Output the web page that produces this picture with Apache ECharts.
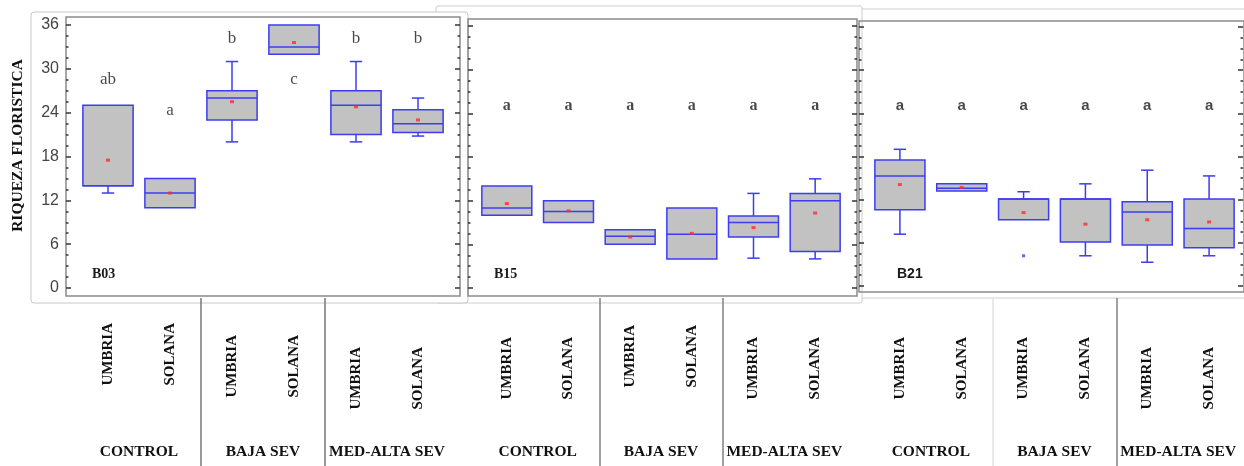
<!DOCTYPE html>
<html>
<head>
<meta charset="utf-8">
<script src="https://cdn.jsdelivr.net/npm/echarts@6/dist/echarts.min.js"></script>
<style>
html, body { margin: 0; padding: 0; background: #fff; }
#chart { width: 1244px; height: 466px; }
</style>
</head>
<body>
<div id="chart"></div>
<script>
// categories
const subCategories = ['UMBRIA', 'SOLANA', 'UMBRIA', 'SOLANA', 'UMBRIA', 'SOLANA'];
const groups = ['CONTROL', 'BAJA SEV', 'MED-ALTA SEV'];
const yMin = 0, yMax = 36, yStep = 6;
const yTitle = 'RIQUEZA FLORISTICA';

// boxes: [min, Q1, median, Q3, max]
const b03Boxes = [[13, 14, 14, 25, 25], [11, 11, 13, 15, 15], [20, 23, 26, 27, 31],
                  [32, 32, 33, 36, 36], [20, 21, 25, 27, 31], [20.8, 21.3, 22.5, 24.4, 26]];
const b03Means = [17.5, 13, 25.5, 33.6, 24.8, 23];
const b03Letters = ['ab', 'a', 'b', 'c', 'b', 'b'];
const b03LetterY = [28.5, 24.3, 34.2, 28.5, 34.2, 34.2];

const b15Boxes = [[10, 10, 11, 14, 14], [9, 9, 10.5, 12, 12], [6, 6, 7.1, 8, 8],
                  [4, 4, 7.4, 11, 11], [4.1, 7, 9, 9.9, 13], [4, 5, 12, 13, 15]];
const b15Means = [11.6, 10.6, 7, 7.5, 8.3, 10.3];
const b15Letters = ['a', 'a', 'a', 'a', 'a', 'a'];
const b15LetterY = [25, 25, 25, 25, 25, 25];

const b21Boxes = [[7.2, 10.6, 15.3, 17.5, 19], [13.2, 13.2, 13.6, 14.2, 14.2], [9.2, 9.2, 12.1, 12.1, 13.1],
                  [4.2, 6.1, 12.1, 12.1, 14.2], [3.3, 5.7, 10.3, 11.7, 16.1], [4.2, 5.3, 8, 12.1, 15.3]];
const b21Means = [14.1, 13.7, 10.2, 8.6, 9.2, 8.9];
const b21Letters = ['a', 'a', 'a', 'a', 'a', 'a'];
const b21LetterY = [25, 25, 25, 25, 25, 25];
const b21Outliers = [[2, 4.2]];

const BLUE = '#3c3cf2';
const GREY = '#c2c2c2';
const SERIF = '"Liberation Serif", "Times New Roman", serif';
const SANS = '"Liberation Sans", Arial, sans-serif';

const panels = [
  {
    name: 'B03', boxes: b03Boxes, means: b03Means, letters: b03Letters, letterY: b03LetterY, outliers: [],
    frame: { left: 66, top: 17, width: 394, height: 279 },
    plot: { left: 77, top: 25, width: 372, height: 263 },
    offsets: [11, 11], labelMargin: 35, labelPad: [0, 0, 12, 12, 24, 24],
    sepColors: ['rgba(0,0,0,0)', '#777', '#777', 'rgba(0,0,0,0)'],
    letterFont: { fontFamily: SERIF, fontSize: 17 }, nameFont: SERIF, nameX: 87, showY: true
  },
  {
    name: 'B15', boxes: b15Boxes, means: b15Means, letters: b15Letters, letterY: b15LetterY, outliers: [],
    frame: { left: 468, top: 19, width: 389, height: 277 },
    plot: { left: 476, top: 26, width: 370, height: 262 },
    offsets: [8, 11], labelMargin: 35, labelPad: [14, 14, 2, 2, 14, 14],
    sepColors: ['rgba(0,0,0,0)', '#808080', '#808080', 'rgba(0,0,0,0)'],
    letterFont: { fontFamily: SERIF, fontSize: 16, fontWeight: 'bold' }, nameFont: SERIF, nameX: 489, showY: false
  },
  {
    name: 'B21', boxes: b21Boxes, means: b21Means, letters: b21Letters, letterY: b21LetterY, outliers: b21Outliers,
    frame: { left: 859, top: 21, width: 392, height: 271 },
    plot: { left: 869, top: 27, width: 371, height: 259 },
    offsets: [10, 3], labelMargin: 51, labelPad: [0, 0, 0, 0, 10, 10],
    sepColors: ['rgba(0,0,0,0)', '#e2e2e2', '#808080', 'rgba(0,0,0,0)'],
    letterFont: { fontFamily: SANS, fontSize: 15, fontWeight: 'bold' }, nameFont: SANS, nameX: 892, showY: false
  }
];

function renderBox(params, api) {
  const i = api.value(0);
  const pMin = api.coord([i, api.value(1)]);
  const pQ1 = api.coord([i, api.value(2)]);
  const pMed = api.coord([i, api.value(3)]);
  const pQ3 = api.coord([i, api.value(4)]);
  const pMax = api.coord([i, api.value(5)]);
  const band = api.size([1, 0])[0];
  const half = band * 0.405;
  const cap = band * 0.1;
  const cx = pMed[0];
  const line = { stroke: BLUE, lineWidth: 1.5 };
  const children = [];
  if (pMax[1] < pQ3[1] - 0.5) {
    children.push({ type: 'line', shape: { x1: cx, y1: pQ3[1], x2: cx, y2: pMax[1] }, style: line });
    children.push({ type: 'line', shape: { x1: cx - cap, y1: pMax[1], x2: cx + cap, y2: pMax[1] }, style: line });
  }
  if (pMin[1] > pQ1[1] + 0.5) {
    children.push({ type: 'line', shape: { x1: cx, y1: pQ1[1], x2: cx, y2: pMin[1] }, style: line });
    children.push({ type: 'line', shape: { x1: cx - cap, y1: pMin[1], x2: cx + cap, y2: pMin[1] }, style: line });
  }
  children.push({
    type: 'rect',
    shape: { x: cx - half, y: pQ3[1], width: half * 2, height: pQ1[1] - pQ3[1] },
    style: { fill: GREY, stroke: BLUE, lineWidth: 1.5 }
  });
  children.push({ type: 'line', shape: { x1: cx - half, y1: pMed[1], x2: cx + half, y2: pMed[1] }, style: line });
  return { type: 'group', children: children };
}

const grid = [], xAxis = [], yAxis = [], series = [], title = [];

panels.forEach(function (p, k) {
  const gFrame = k * 3, gPlot = k * 3 + 1, gBottom = k * 3 + 2;
  grid.push({ left: p.frame.left, top: p.frame.top, width: p.frame.width, height: p.frame.height,
              show: true, borderColor: '#8a8a8a', borderWidth: 1.5, backgroundColor: 'rgba(0,0,0,0)' });
  grid.push({ left: p.plot.left, top: p.plot.top, width: p.plot.width, height: p.plot.height });
  grid.push({ left: p.plot.left, top: 298, width: p.plot.width, bottom: 0 });

  xAxis.push({ gridIndex: gFrame, type: 'value', show: false, min: 0, max: 1 });
  const xPlot = xAxis.length;
  xAxis.push({
    gridIndex: gPlot, type: 'category',
    data: subCategories.map(function (c, i) {
      return { value: c, textStyle: { padding: [0, p.labelPad[i], 0, 0] } };
    }),
    axisLine: { show: false }, axisTick: { show: false },
    axisLabel: { rotate: 90, margin: p.labelMargin, interval: 0, fontFamily: SERIF,
                 fontWeight: 'bold', fontSize: 15, color: '#111' }
  });
  xAxis.push({
    gridIndex: gBottom, type: 'category', data: groups,
    axisLine: { show: false }, axisTick: { show: false },
    axisLabel: { inside: true, margin: 6, interval: 0, fontFamily: SERIF,
                 fontWeight: 'bold', fontSize: 15.5, color: '#111' }
  });
  xAxis.push({
    gridIndex: gBottom, type: 'value', min: 0, max: 3, interval: 1,
    axisLine: { show: false }, axisTick: { show: false }, axisLabel: { show: false },
    splitLine: { show: true, lineStyle: { color: p.sepColors, width: 1.5 } }
  });

  yAxis.push({ gridIndex: gFrame, type: 'value', show: false, min: 0, max: 1 });
  const yPlot = yAxis.length;
  const tickCommon = {
    type: 'value', gridIndex: gPlot, min: yMin, max: yMax, interval: yStep,
    axisLine: { show: false },
    axisTick: { show: true, inside: true, length: 5, lineStyle: { color: '#333', width: 1.5 } },
    minorTick: { show: true, splitNumber: 4, length: 2.5, lineStyle: { color: '#333', width: 1.5 } },
    splitLine: { show: false }
  };
  yAxis.push(Object.assign({}, tickCommon, {
    position: 'left', offset: p.offsets[0],
    axisLabel: { show: p.showY, margin: 7, fontFamily: SANS, fontSize: 16, color: '#444' },
    name: p.showY ? yTitle : '', nameLocation: 'middle', nameRotate: 90, nameGap: 40,
    nameTextStyle: { fontFamily: SERIF, fontWeight: 'bold', fontSize: 15.5, color: '#111',
                     padding: [0, 0, 0, 22] }
  }));
  yAxis.push(Object.assign({}, tickCommon, {
    position: 'right', offset: p.offsets[1], axisLabel: { show: false }
  }));
  yAxis.push({ gridIndex: gBottom, type: 'value', show: false, min: 0, max: 1 });

  series.push({
    type: 'custom', name: p.name + ' box', xAxisIndex: xPlot, yAxisIndex: yPlot,
    renderItem: renderBox,
    encode: { x: 0, y: [1, 2, 3, 4, 5] },
    data: p.boxes.map(function (b, i) { return [i].concat(b); }),
    z: 2
  });
  series.push({
    type: 'scatter', name: p.name + ' mean', xAxisIndex: xPlot, yAxisIndex: yPlot,
    symbol: 'rect', symbolSize: [4, 3], itemStyle: { color: '#ff2a2a' },
    data: p.means.map(function (m, i) { return [i, m]; }), z: 4
  });
  series.push({
    type: 'scatter', name: p.name + ' letters', xAxisIndex: xPlot, yAxisIndex: yPlot,
    symbolSize: 0,
    label: Object.assign({ show: true, position: 'inside', color: '#1a1a1a',
                           formatter: function (d) { return d.name; } }, p.letterFont),
    data: p.letters.map(function (t, i) { return { name: t, value: [i, p.letterY[i]] }; }), z: 4
  });
  if (p.outliers.length) {
    series.push({
      type: 'scatter', name: p.name + ' outliers', xAxisIndex: xPlot, yAxisIndex: yPlot,
      symbol: 'rect', symbolSize: [3, 3], itemStyle: { color: BLUE },
      data: p.outliers, z: 4
    });
  }
  title.push({
    text: p.name, left: p.nameX, top: 262,
    textStyle: { fontFamily: p.nameFont, fontWeight: 'bold', fontSize: 14, color: '#1a1a1a' }
  });
});

const chart = echarts.init(document.getElementById('chart'));
chart.setOption({
  animation: false,
  backgroundColor: '#fff',
  title: title,
  grid: grid,
  xAxis: xAxis,
  yAxis: yAxis,
  series: series,
  graphic: [
    { type: 'rect', z: -10, shape: { x: 856, y: 9, width: 400, height: 289, r: 2 },
      style: { fill: '#fff', stroke: '#cfcfcf', lineWidth: 1 } },
    { type: 'rect', z: -10, shape: { x: 436, y: 6, width: 426, height: 297, r: 2 },
      style: { fill: '#fff', stroke: '#cfcfcf', lineWidth: 1 } },
    { type: 'rect', z: -10, shape: { x: 31, y: 12, width: 437, height: 291, r: 3 },
      style: { fill: '#fff', stroke: '#c8c8c8', lineWidth: 1 } }
  ]
});
</script>
</body>
</html>
